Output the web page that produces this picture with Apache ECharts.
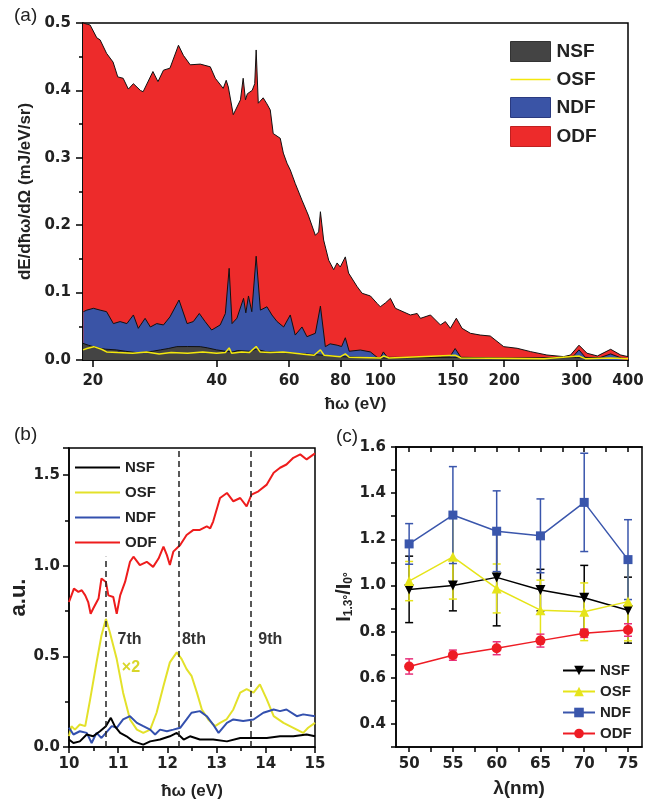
<!DOCTYPE html>
<html>
<head>
<meta charset="utf-8">
<script src="https://cdn.jsdelivr.net/npm/echarts@6/dist/echarts.min.js"></script>
<style>
html, body { margin: 0; padding: 0; background: #fff; }
#chart { width: 660px; height: 802px; }
</style>
</head>
<body>
<div id="chart"></div>
<script>
// ---- panel (a): spectra, [photon energy eV, mJ/eV/sr]
var aOdf = [[18.93,0.5],[19.7,0.497],[20.45,0.478],[20.83,0.475],[21.6,0.455],[22.4,0.442],[23.0,0.42],[23.7,0.418],[24.4,0.402],[25.1,0.41],[26.1,0.40],[26.5,0.398],[28.0,0.428],[28.8,0.413],[29.7,0.43],[30.8,0.433],[32.3,0.467],[33.2,0.452],[34.5,0.438],[36.5,0.439],[38.6,0.435],[39.7,0.418],[41.5,0.403],[42.2,0.415],[42.7,0.405],[43.9,0.364],[45.7,0.386],[46.4,0.418],[47.0,0.386],[47.5,0.395],[48.8,0.40],[49.5,0.41],[49.9,0.46],[50.5,0.381],[51.9,0.389],[53.0,0.38],[54.0,0.371],[54.9,0.336],[57.1,0.329],[58.1,0.307],[59.3,0.292],[60.4,0.282],[62.1,0.262],[64.5,0.237],[66.8,0.215],[69.5,0.185],[70.8,0.19],[71.5,0.22],[72.8,0.178],[74.9,0.148],[77.0,0.134],[78.5,0.144],[79.9,0.138],[82.2,0.153],[83.7,0.129],[87.8,0.109],[90.3,0.099],[94.6,0.095],[98.2,0.084],[100,0.079],[103,0.085],[105.8,0.0915],[108.8,0.0767],[118.3,0.0668],[122.9,0.069],[125.2,0.0618],[132.4,0.0668],[140,0.052],[143.9,0.057],[148,0.047],[153,0.062],[158,0.047],[165.6,0.0396],[175,0.037],[185,0.0356],[199.5,0.0198],[215,0.0174],[232,0.0124],[254,0.0074],[279,0.005],[290,0.0074],[304,0.022],[318,0.01],[337,0.006],[363,0.0159],[384,0.0074],[400,0.005]];
var aNdf = [[18.97,0.0717],[19.34,0.074],[20.07,0.0767],[20.83,0.074],[21.6,0.0717],[22.44,0.054],[23.3,0.057],[24.2,0.054],[25.1,0.0668],[25.8,0.047],[26.8,0.0618],[27.6,0.049],[28.6,0.054],[29.7,0.052],[30.8,0.064],[32.4,0.089],[33.9,0.054],[35.1,0.057],[36.3,0.069],[37.5,0.057],[38.9,0.0445],[40.8,0.052],[42.0,0.069],[42.9,0.136],[43.6,0.054],[44.8,0.062],[46.5,0.0915],[47.1,0.07],[47.8,0.095],[48.7,0.0717],[49.9,0.154],[51.1,0.074],[53.0,0.079],[54.5,0.0668],[56.1,0.057],[58.2,0.049],[60.4,0.0668],[62.1,0.037],[64.5,0.049],[66.3,0.0346],[69.5,0.0396],[71.5,0.08],[73.5,0.0198],[75.5,0.024],[78.5,0.022],[80.5,0.02],[82.2,0.033],[84,0.013],[89.4,0.0148],[94.6,0.012],[98.2,0.004],[100,0.003],[101.7,0.012],[104,0.004],[120,0.004],[140,0.005],[148,0.006],[152,0.017],[157,0.004],[200,0.003],[280,0.003],[295,0.006],[304,0.015],[315,0.004],[340,0.003],[363,0.009],[385,0.003],[400,0.002]];
var aNsf = [[18.93,0.0247],[19.5,0.022],[20,0.02],[20.83,0.0173],[21.5,0.016],[22.8,0.015],[24,0.013],[25.5,0.011],[26.1,0.011],[28,0.013],[29.2,0.015],[30.5,0.017],[32.0,0.0198],[34,0.02],[36.5,0.0198],[38,0.018],[40,0.015],[42,0.013],[43.8,0.012],[45,0.014],[48,0.013],[50,0.016],[53,0.012],[56,0.012],[61.5,0.01],[66,0.009],[71.5,0.0074],[76,0.006],[80,0.005],[90,0.004],[100,0.003],[150,0.004],[200,0.002],[300,0.004],[400,0.002]];
var aOsf = [[18.93,0.015],[19.34,0.017],[20.1,0.0198],[21.0,0.016],[21.6,0.012],[23,0.011],[25,0.01],[27,0.012],[29,0.009],[31,0.011],[34,0.01],[37,0.012],[40,0.01],[42,0.011],[42.9,0.018],[43.5,0.01],[46,0.012],[48,0.011],[49.9,0.02],[51,0.012],[54,0.011],[58,0.012],[62,0.01],[66,0.008],[69,0.007],[71.5,0.015],[73,0.007],[80,0.005],[82.2,0.009],[84,0.004],[100,0.003],[102,0.006],[105,0.003],[152,0.007],[157,0.003],[250,0.002],[304,0.006],[315,0.002],[363,0.003],[400,0.002]];
var aTicksEv = [20, 40, 60, 80, 100, 150, 200, 300, 400];

// ---- panel (b): low harmonics, [eV, a.u.]
var bNsf = [[10.0,0.041],[10.09,0.022],[10.22,0.031],[10.36,0.069],[10.49,0.059],[10.63,0.087],[10.75,0.115],[10.85,0.161],[10.93,0.115],[11.04,0.078],[11.17,0.059],[11.31,0.031],[11.51,0.013],[11.65,0.031],[11.85,0.041],[12.05,0.059],[12.19,0.078],[12.33,0.041],[12.46,0.059],[12.66,0.041],[12.93,0.041],[13.21,0.031],[13.48,0.05],[13.75,0.05],[14.02,0.05],[14.29,0.059],[14.56,0.059],[14.83,0.069],[15.0,0.059]];
var bOsf = [[10.0,0.06],[10.05,0.115],[10.12,0.096],[10.22,0.124],[10.33,0.115],[10.43,0.263],[10.56,0.467],[10.66,0.615],[10.75,0.707],[10.83,0.633],[10.97,0.485],[11.1,0.30],[11.24,0.152],[11.38,0.096],[11.51,0.078],[11.65,0.096],[11.78,0.189],[11.92,0.337],[12.05,0.467],[12.19,0.522],[12.29,0.485],[12.39,0.43],[12.49,0.393],[12.6,0.30],[12.7,0.207],[12.83,0.152],[12.97,0.115],[13.07,0.133],[13.2,0.152],[13.34,0.207],[13.48,0.30],[13.61,0.319],[13.75,0.30],[13.88,0.346],[14.02,0.263],[14.16,0.17],[14.36,0.133],[14.56,0.106],[14.76,0.078],[14.86,0.106],[15.0,0.133]];
var bNdf = [[10.0,0.106],[10.09,0.069],[10.22,0.087],[10.36,0.078],[10.46,0.022],[10.56,0.078],[10.66,0.05],[10.75,0.078],[10.87,0.115],[10.97,0.106],[11.1,0.152],[11.24,0.17],[11.38,0.133],[11.51,0.115],[11.65,0.096],[11.75,0.069],[11.85,0.096],[11.99,0.087],[12.12,0.096],[12.26,0.106],[12.39,0.152],[12.49,0.189],[12.66,0.198],[12.8,0.17],[12.93,0.124],[13.04,0.078],[13.21,0.133],[13.34,0.152],[13.54,0.143],[13.75,0.152],[13.95,0.189],[14.16,0.207],[14.29,0.198],[14.42,0.207],[14.63,0.17],[14.76,0.18],[15.0,0.17]];
var bOdf = [[10.0,0.80],[10.05,0.837],[10.1,0.874],[10.19,0.856],[10.26,0.865],[10.33,0.837],[10.39,0.80],[10.44,0.735],[10.49,0.763],[10.6,0.819],[10.66,0.93],[10.75,0.911],[10.8,0.837],[10.9,0.828],[10.97,0.735],[11.04,0.837],[11.14,0.911],[11.24,1.022],[11.31,1.05],[11.44,1.004],[11.58,1.022],[11.71,0.994],[11.82,1.04],[11.92,1.106],[11.99,1.059],[12.05,1.004],[12.12,1.078],[12.26,1.115],[12.39,1.17],[12.53,1.198],[12.66,1.198],[12.8,1.217],[12.87,1.207],[12.93,1.244],[13.07,1.374],[13.21,1.402],[13.34,1.356],[13.48,1.374],[13.61,1.328],[13.71,1.393],[13.85,1.411],[14.02,1.448],[14.16,1.513],[14.29,1.541],[14.42,1.559],[14.56,1.596],[14.7,1.615],[14.83,1.587],[15.0,1.62]];
var harmonicNames = ['7th', '8th', '9th'];
var harmonicEv = [10.75, 12.23, 13.7];
var harmonicTop = [1.05, 1.65, 1.65];
var harmonicLabelEv = [11.23, 12.54, 14.09];

// ---- panel (c): ratio vs wavelength
var lambdaNm = [50, 55, 60, 65, 70, 75];
var cNsf = [0.983, 1.0, 1.035, 0.98, 0.947, 0.893];
var cNsfErr = [0.144, 0.11, 0.21, 0.09, 0.14, 0.143];
var cOsf = [1.019, 1.124, 0.987, 0.893, 0.886, 0.93];
var cOsfErr = [0.085, 0.183, 0.106, 0.13, 0.125, 0.17];
var cNdf = [1.18, 1.305, 1.235, 1.215, 1.36, 1.112];
var cNdfErr = [0.088, 0.21, 0.175, 0.16, 0.213, 0.173];
var cOdf = [0.649, 0.698, 0.728, 0.761, 0.793, 0.807];
var cOdfErr = [0.033, 0.022, 0.028, 0.028, 0.018, 0.027];
var cTickLambda = [50, 52.5, 55, 57.5, 60, 62.5, 65, 67.5, 70, 72.5, 75];
var cLabelLambda = [50, 55, 60, 65, 70, 75];
var cLabelY = [0.4, 0.6, 0.8, 1.0, 1.2, 1.4, 1.6];
var cTickY = [0.3, 0.4, 0.5, 0.6, 0.7, 0.8, 0.9, 1.0, 1.1, 1.2, 1.3, 1.4, 1.5, 1.6];

var tickFont = { fontFamily: 'DejaVu Sans', fontWeight: 'bold', fontSize: 15, color: '#222' };
var nameFont = { fontFamily: 'Liberation Sans', fontWeight: 'bold', fontSize: 17, color: '#222' };
var axLine = { show: true, onZero: false, lineStyle: { color: '#000', width: 1.5 } };
var tickLine = { color: '#000', width: 1.5 };
var bLegendIcon = 'path://M0,0H45V2.2H0Z';

function logPairs(arr) {
    return arr.map(function (p) { return [Math.log10(p[0]), p[1]]; });
}
function withErr(vals, err) {
    return lambdaNm.map(function (l, i) { return [l, vals[i] - err[i], vals[i] + err[i]]; });
}
function errSeries(vals, err, color) {
    return {
        type: 'custom', xAxisIndex: 2, yAxisIndex: 2, silent: true, z: 3,
        data: withErr(vals, err),
        encode: { x: 0, y: [1, 2] },
        renderItem: function (params, api) {
            var x = api.value(0);
            var lo = api.coord([x, api.value(1)]);
            var hi = api.coord([x, api.value(2)]);
            var st = { stroke: color, lineWidth: 1.5 };
            return {
                type: 'group', children: [
                    { type: 'line', shape: { x1: lo[0], y1: lo[1], x2: hi[0], y2: hi[1] }, style: st },
                    { type: 'line', shape: { x1: lo[0] - 4, y1: lo[1], x2: lo[0] + 4, y2: lo[1] }, style: st },
                    { type: 'line', shape: { x1: hi[0] - 4, y1: hi[1], x2: hi[0] + 4, y2: hi[1] }, style: st }
                ]
            };
        }
    };
}
function cLine(name, vals, color, symbol, rotate, size) {
    return {
        name: name, type: 'line', xAxisIndex: 2, yAxisIndex: 2, z: 4,
        data: lambdaNm.map(function (l, i) { return [l, vals[i]]; }),
        symbol: symbol, symbolRotate: rotate, symbolSize: size, showSymbol: true,
        lineStyle: { color: color, width: 1.5 },
        itemStyle: { color: color }
    };
}

var chart = echarts.init(document.getElementById('chart'));
var option = {
    animation: false,
    backgroundColor: '#fff',
    title: [
        { text: '(a)', left: 14, top: 6, padding: 0, textStyle: { fontFamily: 'Liberation Sans', fontWeight: 'normal', fontSize: 19, color: '#222' } },
        { text: '(b)', left: 14, top: 425, padding: 0, textStyle: { fontFamily: 'Liberation Sans', fontWeight: 'normal', fontSize: 19, color: '#222' } },
        { text: '(c)', left: 336, top: 427, padding: 0, textStyle: { fontFamily: 'Liberation Sans', fontWeight: 'normal', fontSize: 19, color: '#222' } }
    ],
    grid: [
        { left: 83, top: 23, right: 32, bottom: 442, show: true, borderColor: '#000', borderWidth: 1.5 },
        { left: 69, top: 448, right: 345, bottom: 55, show: true, borderColor: '#000', borderWidth: 1.5 },
        { left: 396, top: 447, right: 18, bottom: 55, show: true, borderColor: '#000', borderWidth: 1.5 }
    ],
    legend: [
        {
            orient: 'vertical', left: 510, top: 41, padding: 0, itemWidth: 40, itemHeight: 20, itemGap: 8,
            selectedMode: false,
            formatter: function (n) { return n.slice(2); },
            textStyle: { fontFamily: 'Liberation Sans', fontWeight: 'bold', fontSize: 19, color: '#222', padding: [0, 0, 0, 1] },
            data: [
                { name: 'a-NSF', icon: 'rect', itemStyle: { color: '#444444', borderColor: '#333', borderWidth: 1 } },
                { name: 'a-OSF', icon: 'path://M0,0H40V1.5H0Z', itemStyle: { color: '#f4e80c', borderWidth: 0 } },
                { name: 'a-NDF', icon: 'rect', itemStyle: { color: '#3a54a6', borderColor: '#2a3a80', borderWidth: 1 } },
                { name: 'a-ODF', icon: 'rect', itemStyle: { color: '#ed2b2b', borderColor: '#c02020', borderWidth: 1 } }
            ]
        },
        {
            orient: 'vertical', left: 75, top: 460, padding: 0, itemWidth: 45, itemHeight: 14, itemGap: 10,
            selectedMode: false,
            formatter: function (n) { return n.slice(2); },
            textStyle: { fontFamily: 'Liberation Sans', fontWeight: 'bold', fontSize: 15, color: '#222' },
            data: [
                { name: 'b-NSF', icon: bLegendIcon, itemStyle: { color: '#000', borderWidth: 0 } },
                { name: 'b-OSF', icon: bLegendIcon, itemStyle: { color: '#e3e12a', borderWidth: 0 } },
                { name: 'b-NDF', icon: bLegendIcon, itemStyle: { color: '#3350ae', borderWidth: 0 } },
                { name: 'b-ODF', icon: bLegendIcon, itemStyle: { color: '#ee1c1c', borderWidth: 0 } }
            ]
        },
        {
            orient: 'vertical', left: 562, top: 663, padding: 0, itemWidth: 32, itemHeight: 12, itemGap: 6,
            selectedMode: false,
            formatter: function (n) { return n.slice(2); },
            textStyle: { fontFamily: 'Liberation Sans', fontWeight: 'bold', fontSize: 15, color: '#222' },
            data: ['c-NSF', 'c-OSF', 'c-NDF', 'c-ODF']
        }
    ],
    xAxis: [
        {
            type: 'value', gridIndex: 0, min: Math.log10(18.93), max: Math.log10(400),
            axisLine: axLine, splitLine: { show: false },
            axisTick: { show: true, customValues: aTicksEv.map(function (v) { return Math.log10(v); }), length: 7, lineStyle: tickLine },
            axisLabel: Object.assign({ customValues: aTicksEv.map(function (v) { return Math.log10(v); }), margin: 14,
                formatter: function (v) { return String(Math.round(Math.pow(10, v))); } }, tickFont),
            name: 'ħω (eV)', nameLocation: 'middle', nameGap: 36, nameTextStyle: nameFont
        },
        {
            type: 'value', gridIndex: 1, min: 10, max: 15, interval: 1,
            axisLine: axLine, splitLine: { show: false },
            axisTick: { length: 6, lineStyle: tickLine },
            minorTick: { show: true, splitNumber: 2, length: 4, lineStyle: tickLine },
            axisLabel: Object.assign({ margin: 10 }, tickFont),
            name: 'ħω (eV)', nameLocation: 'middle', nameGap: 36, nameTextStyle: nameFont
        },
        {
            type: 'value', gridIndex: 2, min: 48.5, max: 76.6,
            axisLine: axLine, splitLine: { show: false },
            axisTick: { customValues: cTickLambda, length: 5, lineStyle: tickLine },
            axisLabel: Object.assign({ customValues: cLabelLambda, margin: 10 }, tickFont),
            name: 'λ(nm)', nameLocation: 'middle', nameGap: 32,
            nameTextStyle: Object.assign({}, nameFont, { fontSize: 19 })
        },
        {
            type: 'value', gridIndex: 2, position: 'top', min: 48.5, max: 76.6,
            axisLine: axLine, splitLine: { show: false },
            axisTick: { customValues: cTickLambda, inside: true, length: 5, lineStyle: tickLine },
            axisLabel: { show: false }
        }
    ],
    yAxis: [
        {
            type: 'value', gridIndex: 0, min: 0, max: 0.5, interval: 0.1,
            axisLine: axLine, splitLine: { show: false },
            axisTick: { length: 7, lineStyle: tickLine },
            minorTick: { show: true, splitNumber: 2, length: 4, lineStyle: tickLine },
            axisLabel: Object.assign({ margin: 12, formatter: function (v) { return v.toFixed(1); } }, tickFont),
            name: 'dE/dħω/dΩ (mJ/eV/sr)', nameLocation: 'middle', nameGap: 48, nameTextStyle: nameFont
        },
        {
            type: 'value', gridIndex: 1, min: 0, max: 1.65, interval: 0.5,
            axisLine: axLine, splitLine: { show: false },
            axisTick: { length: 6, lineStyle: tickLine },
            minorTick: { show: true, splitNumber: 2, length: 4, lineStyle: tickLine },
            axisLabel: Object.assign({ margin: 9, showMaxLabel: false, formatter: function (v) { return v.toFixed(1); } }, tickFont),
            name: 'a.u.', nameLocation: 'middle', nameGap: 36,
            nameTextStyle: Object.assign({}, nameFont, { fontSize: 22 })
        },
        {
            type: 'value', gridIndex: 2, min: 0.3, max: 1.6,
            axisLine: axLine, splitLine: { show: false },
            axisTick: { customValues: cTickY, length: 5, lineStyle: tickLine },
            axisLabel: Object.assign({ customValues: cLabelY, margin: 10, formatter: function (v) { return v.toFixed(1); } }, tickFont),
            name: '{m|I}{s|1.3°}{m|/I}{s|0°}', nameLocation: 'middle', nameGap: 40,
            nameTextStyle: {
                rich: {
                    m: { fontFamily: 'Liberation Sans', fontWeight: 'bold', fontSize: 20, color: '#222', lineHeight: 24 },
                    s: { fontFamily: 'Liberation Sans', fontWeight: 'bold', fontSize: 12, color: '#222', lineHeight: 24, padding: [9, 0, 0, 0] }
                }
            }
        }
    ],
    series: [
        // panel (a)
        { name: 'a-ODF', type: 'line', xAxisIndex: 0, yAxisIndex: 0, z: 1, data: logPairs(aOdf), symbol: 'none',
          lineStyle: { color: '#111', width: 1 }, itemStyle: { color: '#ed2b2b' }, areaStyle: { color: '#ed2b2b', opacity: 1 } },
        { name: 'a-NDF', type: 'line', xAxisIndex: 0, yAxisIndex: 0, z: 2, data: logPairs(aNdf), symbol: 'none',
          lineStyle: { color: '#111', width: 1 }, itemStyle: { color: '#3a54a6' }, areaStyle: { color: '#3a54a6', opacity: 1 } },
        { name: 'a-NSF', type: 'line', xAxisIndex: 0, yAxisIndex: 0, z: 3, data: logPairs(aNsf), symbol: 'none',
          lineStyle: { color: '#111', width: 1 }, itemStyle: { color: '#444444' }, areaStyle: { color: '#444444', opacity: 1 } },
        { name: 'a-OSF', type: 'line', xAxisIndex: 0, yAxisIndex: 0, z: 4, data: logPairs(aOsf), symbol: 'none',
          lineStyle: { color: '#f4e80c', width: 1.5 }, itemStyle: { color: '#f4e80c' } },
        // panel (b)
        { name: 'b-NSF', type: 'line', xAxisIndex: 1, yAxisIndex: 1, z: 4, data: bNsf, symbol: 'none',
          lineStyle: { color: '#000', width: 2 }, itemStyle: { color: '#000' } },
        { name: 'b-OSF', type: 'line', xAxisIndex: 1, yAxisIndex: 1, z: 3, data: bOsf, symbol: 'none',
          lineStyle: { color: '#e3e12a', width: 2 }, itemStyle: { color: '#e3e12a' },
          markPoint: {
              symbol: 'circle', symbolSize: 0, silent: true,
              label: { show: true, position: 'inside', formatter: '{b}', fontFamily: 'Liberation Sans', fontWeight: 'bold', fontSize: 16, color: '#333' },
              data: harmonicNames.map(function (n, i) { return { name: n, coord: [harmonicLabelEv[i], 0.593] }; })
                  .concat([{ name: '×2', coord: [11.26, 0.44], label: { color: '#d8d62a', fontSize: 16 } }])
          } },
        { name: 'b-NDF', type: 'line', xAxisIndex: 1, yAxisIndex: 1, z: 3, data: bNdf, symbol: 'none',
          lineStyle: { color: '#3350ae', width: 2 }, itemStyle: { color: '#3350ae' } },
        { name: 'b-ODF', type: 'line', xAxisIndex: 1, yAxisIndex: 1, z: 3, data: bOdf, symbol: 'none',
          lineStyle: { color: '#ee1c1c', width: 2 }, itemStyle: { color: '#ee1c1c' },
          markLine: {
              silent: true, symbol: ['none', 'none'], label: { show: false },
              lineStyle: { color: '#222', width: 1.5, type: [6, 4] },
              data: harmonicEv.map(function (x, i) { return [{ coord: [x, 0] }, { coord: [x, harmonicTop[i]] }]; })
          } },
        // panel (c)
        errSeries(cNsf, cNsfErr, '#000'),
        errSeries(cOsf, cOsfErr, '#e6e41a'),
        errSeries(cNdf, cNdfErr, '#3a56ac'),
        errSeries(cOdf, cOdfErr, '#e8307a'),
        cLine('c-NSF', cNsf, '#000', 'triangle', 180, 10),
        cLine('c-OSF', cOsf, '#e6e41a', 'triangle', 0, 10),
        cLine('c-NDF', cNdf, '#3a56ac', 'rect', 0, 9),
        cLine('c-ODF', cOdf, '#ee1c24', 'circle', 0, 10)
    ]
};
chart.setOption(option);
</script>
</body>
</html>
